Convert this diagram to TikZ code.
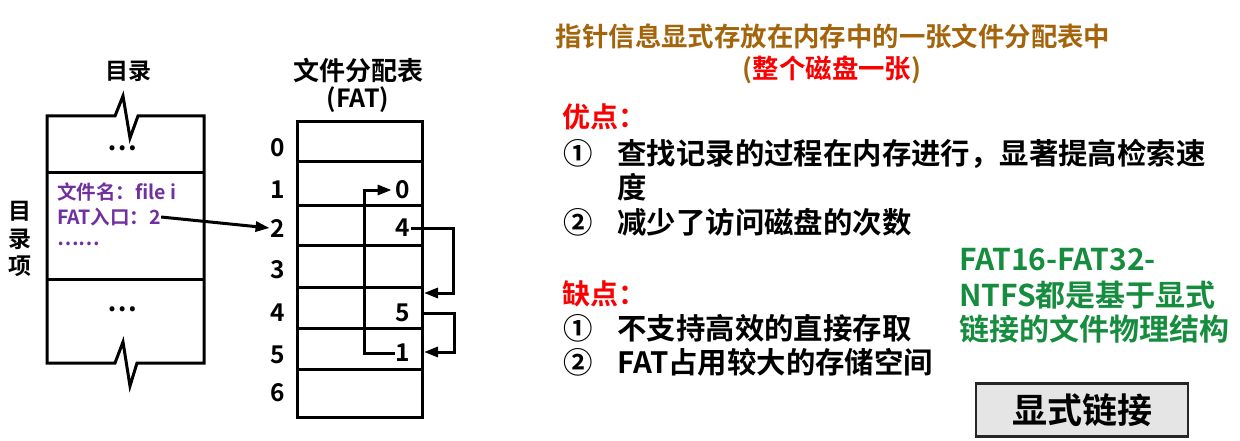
\documentclass[tikz,border=0pt]{standalone}
\usepackage{fontspec}
\setmainfont{Noto Sans CJK SC}[BoldFont={Noto Sans CJK SC Bold}]
\usetikzlibrary{arrows.meta}
\definecolor{titleBrown}{RGB}{163,100,12}
\definecolor{entryPurple}{RGB}{112,48,160}
\definecolor{noteGreen}{RGB}{22,140,62}
\definecolor{proRed}{RGB}{250,0,0}
\definecolor{buttonGrey}{RGB}{229,229,229}
\newcommand{\sizeBold}[1]{\fontsize{#1pt}{1.2\dimexpr#1pt\relax}\selectfont\bfseries}
\newcommand{\myDirectory}{%%
  %% Draw the directory, broken at the top and at the bottom.
  \draw[lineStyle] (138,116) -- (204,116) -- (204,363) -- (137,363)
  -- (130,386) -- (123,342) -- (115,363) -- (47,363) -- (47,116)
  -- (115,116) -- (123,96) -- (130,138) -- cycle;
  %% Separate the entries of the directory.
  \draw[lineStyle] (47,173) -- (204,173);
  \draw[lineStyle] (47,279) -- (204,279);
  \node[dotStyle] (dotsTop) at (122,148) {…};
  \node[dotStyle] (dotsBottom) at (122,309) {…};
  %% One directory entry.
  \node[entryStyle] (fileName) at (57,192) {文件名：file i};
  \node[entryStyle] (fileEntry) at (57,217) {FAT入口：2};
  \node[entryStyle] (fileMore) at (57,244) {……};
  \node[captionStyle] (dirCaption) at (128,71) {目录};
  \node[captionStyle,align=center] (dirItem) at (20,239) {目\\录\\项};
}
\newcommand{\myTable}{%%
  %% Draw the rows of the file allocation table.
  \foreach \row/\ytop/\ybot/\ylbl in {0/122/162/148,1/162/205/190,
    2/205/245/228,3/245/287/270,4/287/328/313,5/328/369/355,6/369/417/393}{
    \draw[lineStyle] (297,\ytop) rectangle (422,\ybot);
    \node[numStyle] (lbl\row) at (278,\ylbl) {\row};
  }
  \node[captionStyle,font=\sizeBold{26}] (fatCaption) at (358,71) {文件分配表};
  \node[captionStyle,font=\sizeBold{25}] (fatShort) at (358,100) {(FAT)};
  %% Next block of each block of file i.
  \node[numStyle] (val1) at (403,190) {0};
  \node[numStyle] (val2) at (403,228) {4};
  \node[numStyle] (val4) at (403,313) {5};
  \node[numStyle] (val5) at (403,353) {1};
  \coordinate (in4) at (424,293);
  \coordinate (in5) at (424,352);
}

\begin{document}
\begin{tikzpicture}[x=1pt,y=-1pt,%%
  lineStyle/.style={-,line width=3pt},%%
  arrowStyle/.style={lineStyle,-{Triangle[length=14pt,width=10pt]}},%%
  dotStyle/.style={inner sep=0pt,font=\sizeBold{27}},%%
  entryStyle/.style={anchor=west,inner sep=0pt,text=entryPurple,font=\sizeBold{19.5}},%%
  captionStyle/.style={inner sep=0pt,font=\sizeBold{23}},%%
  numStyle/.style={inner sep=1pt,font=\sizeBold{24.5}},%%
  titleStyle/.style={inner sep=0pt,text=titleBrown,font=\sizeBold{26.4}},%%
  headStyle/.style={anchor=west,inner sep=0pt,text=proRed,font=\sizeBold{28}},%%
  bodyStyle/.style={anchor=west,inner sep=0pt,font=\sizeBold{29.4}},%%
  noteStyle/.style={anchor=west,inner sep=0pt,text=noteGreen,font=\sizeBold{30}},%%
  buttonStyle/.style={draw=black!85,line width=2.5pt,fill=buttonGrey,
    minimum width=212pt,minimum height=53pt,font=\sizeBold{35}}
]
\useasboundingbox (0,0) rectangle (1240,441);
%%
%% Directory and file allocation table.
\myDirectory
\myTable
\draw[arrowStyle] (fileEntry.east) -- (lbl2.west);
\draw[arrowStyle,shorten >=3pt] (val5.west) -- ++(-30,0) |- (val1.west);
\draw[arrowStyle] (val2.east) -- ++(42,0) |- (in4);
\draw[arrowStyle] (val4.east -| in4) -- ++(30,0) |- (in5);
%%
%% Notes on the right.
\node[titleStyle] (title) at (833,36) {指针信息显式存放在内存中的一张文件分配表中};
\node[titleStyle] (titleSub) at (832,70) {(\textcolor{proRed}{整个磁盘一张})};
\node[headStyle] (proHead) at (562,117) {优点：};
\node[bodyStyle] (pro1) at (563,154) {①\hspace{25pt}查找记录的过程在内存进行，显著提高检索速};
\node[bodyStyle] (pro1More) at (617,187) {度};
\node[bodyStyle] (pro2) at (563,222) {②\hspace{25pt}减少了访问磁盘的次数};
\node[headStyle] (conHead) at (562,294) {缺点：};
\node[bodyStyle] (con1) at (563,328) {①\hspace{25pt}不支持高效的直接存取};
\node[bodyStyle] (con2) at (563,362) {②\hspace{25pt}FAT占用较大的存储空间};
\node[noteStyle] (note1) at (959,260) {FAT16-FAT32-};
\node[noteStyle] (note2) at (959,295) {NTFS都是基于显式};
\node[noteStyle] (note3) at (959,329) {链接的文件物理结构};
\node[buttonStyle] (button) at (1082,410) {显式链接};

\end{tikzpicture}
\end{document}
